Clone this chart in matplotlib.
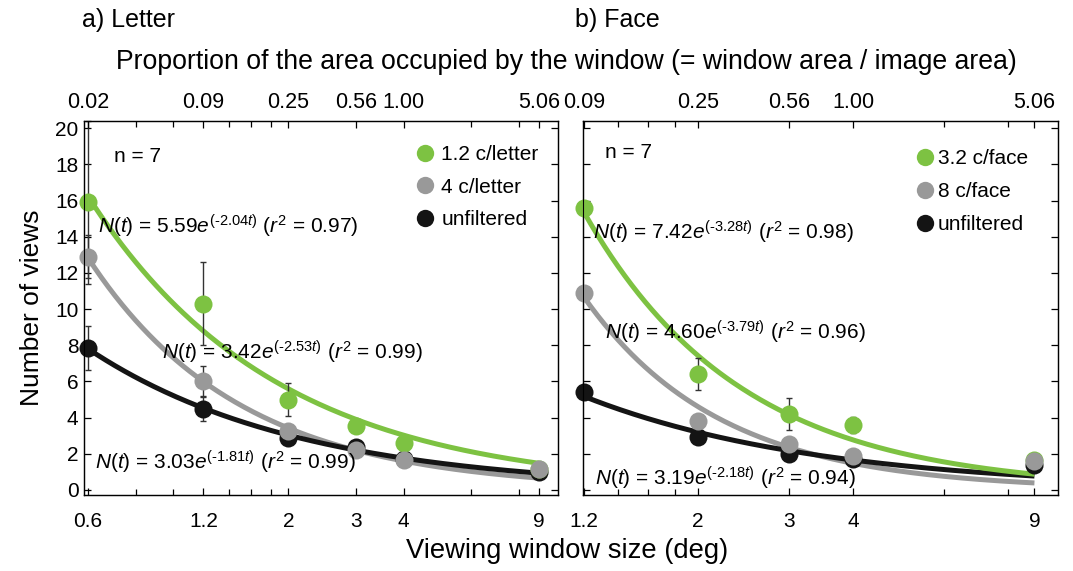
import numpy as np
import matplotlib.pyplot as plt
from matplotlib.lines import Line2D
from matplotlib.ticker import FixedLocator, FixedFormatter, NullFormatter

plt.rcParams['font.family'] = 'Liberation Sans'
plt.rcParams['mathtext.fontset'] = 'custom'
plt.rcParams['mathtext.rm'] = 'Liberation Sans'
plt.rcParams['mathtext.it'] = 'Liberation Sans:italic'

GREEN = '#7dc242'
GRAY = '#999999'
BLACK = '#141414'
ERR = '#333333'

# ---- a) Letter ----
letter_deg = [0.6, 1.2, 2, 3, 4, 9]
letter_deg_labels = ['0.6', '1.2', '2', '3', '4', '9']
letter_prop_labels = ['0.02', '0.09', '0.25', '0.56', '1.00', '5.06']
letter_names = ['1.2 c/letter', '4 c/letter', 'unfiltered']
letter_low = [15.9, 10.3, 5.0, 3.55, 2.6, 1.15]
letter_low_err = [4.5, 2.3, 0.9, 0.3, 0.3, 0.2]
letter_mid = [12.9, 6.0, 3.25, 2.2, 1.65, 1.15]
letter_mid_err = [1.2, 0.85, 0.3, 0.2, 0.2, 0.2]
letter_unf = [7.85, 4.5, 2.85, 2.35, 1.7, 1.0]
letter_unf_err = [1.2, 0.7, 0.2, 0.2, 0.2, 0.15]
letter_a = [5.59, 3.42, 3.03]
letter_b = [2.04, 2.53, 1.81]
letter_r2 = [0.97, 0.99, 0.99]

# ---- b) Face ----
face_deg = [1.2, 2, 3, 4, 9]
face_deg_labels = ['1.2', '2', '3', '4', '9']
face_prop_labels = ['0.09', '0.25', '0.56', '1.00', '5.06']
face_names = ['3.2 c/face', '8 c/face', 'unfiltered']
face_low = [15.6, 6.4, 4.2, 3.6, 1.65]
face_low_err = [0.3, 0.9, 0.9, 0.45, 0.2]
face_mid = [10.9, 3.8, 2.55, 1.9, 1.6]
face_mid_err = [0.3, 0.2, 0.2, 0.2, 0.2]
face_unf = [5.4, 2.9, 2.0, 1.7, 1.4]
face_unf_err = [0.3, 0.25, 0.2, 0.2, 0.2]
face_a = [7.42, 4.60, 3.19]
face_b = [3.28, 3.79, 2.18]
face_r2 = [0.98, 0.96, 0.94]

minor_deg = [0.8, 1.0, 1.4, 1.6, 1.8, 6, 8]
colors = [GREEN, GRAY, BLACK]
curve_z = [2.3, 2.1, 2.2]   # gray curve under black, green on top
point_z = [4.2, 4.3, 4.1]   # gray points over green and black

fig = plt.figure(figsize=(10.73, 5.71), dpi=100)
axL = fig.add_axes([84 / 1073, 76 / 571, 474 / 1073, 374 / 571])
axR = fig.add_axes([583 / 1073, 76 / 571, 475 / 1073, 374 / 571])


def eq_text(a, b, r2):
    # hyphen (U+2010) instead of a math minus, as in the original
    return r'$N(t)$ = %.2f$e^{(' % a + '\u2010' + r'%.2ft)}$ ($r^2$ = %.2f)' % (b, r2)


def panel(ax, deg, deg_labels, prop_labels, xlim, series, errs, names,
          fa, fb, fr2, eq_pos, n_pos, leg_pos, leg_pad, ylabels):
    ax.set_xscale('log')
    xs = np.geomspace(deg[0], deg[-1], 200)
    # fitted curves: N(t) = a * exp(-b t), t = log10(deg / 2)
    for a, b, c, z in zip(fa, fb, colors, curve_z):
        ax.plot(xs, a * np.exp(-b * np.log10(xs / 2)), color=c, lw=3.6,
                solid_capstyle='butt', zorder=z)
    for y, e, c, z in zip(series, errs, colors, point_z):
        ax.errorbar(deg, y, yerr=e, fmt='none', ecolor=ERR, elinewidth=1.0,
                    capsize=2.5, capthick=1.0, zorder=3, clip_on=False)
        ax.plot(deg, y, 'o', color=c, ms=13, mew=0, zorder=z, clip_on=False)
    ax.set_xlim(*xlim)
    ax.set_ylim(-0.28, 20.4)
    ax.xaxis.set_major_locator(FixedLocator(deg))
    ax.xaxis.set_major_formatter(FixedFormatter(deg_labels))
    ax.xaxis.set_minor_locator(FixedLocator([m for m in minor_deg if xlim[0] < m < xlim[1]]))
    ax.xaxis.set_minor_formatter(NullFormatter())
    ax.set_yticks(range(0, 21, 2))
    ax.tick_params(axis='both', which='both', direction='in', labelsize=15,
                   right=True, width=0.9)
    ax.tick_params(axis='x', which='major', length=5, pad=12)
    ax.tick_params(axis='x', which='minor', length=4)
    ax.tick_params(axis='y', length=5, pad=4)
    if not ylabels:
        ax.tick_params(axis='y', labelleft=False)
    for s in ax.spines.values():
        s.set_linewidth(1.0)
        s.set_color('#222222')

    top = ax.twiny()
    top.set_xscale('log')
    top.set_xlim(*xlim)
    top.xaxis.set_major_locator(FixedLocator(deg))
    top.xaxis.set_major_formatter(FixedFormatter(prop_labels))
    top.xaxis.set_minor_locator(FixedLocator([m for m in minor_deg if xlim[0] < m < xlim[1]]))
    top.xaxis.set_minor_formatter(NullFormatter())
    top.tick_params(axis='x', which='both', direction='in', labelsize=15.5,
                    width=0.9, pad=6)
    top.tick_params(axis='x', which='major', length=5)
    top.tick_params(axis='x', which='minor', length=4)

    for (x, y), a, b, r2 in zip(eq_pos, fa, fb, fr2):
        ax.text(x, y, eq_text(a, b, r2), transform=ax.transAxes, fontsize=15,
                va='center', ha='left', zorder=5)
    ax.text(n_pos[0], n_pos[1], 'n = 7', transform=ax.transAxes, fontsize=15,
            va='center', ha='left')

    handles = [Line2D([], [], marker='o', ls='none', color=c, ms=12.5, mew=0)
               for c in colors]
    ax.legend(handles, names, loc='upper left', bbox_to_anchor=leg_pos,
              frameon=False, fontsize=15, handlelength=1.0,
              handletextpad=leg_pad, labelspacing=0.66, borderpad=0,
              borderaxespad=0)


panel(axL, letter_deg, letter_deg_labels, letter_prop_labels, (0.586, 10.1),
      [letter_low, letter_mid, letter_unf],
      [letter_low_err, letter_mid_err, letter_unf_err], letter_names,
      letter_a, letter_b, letter_r2,
      [(0.030, 0.719), (0.165, 0.38), (0.023, 0.086)], (0.063, 0.904),
      (0.697, 0.936), 0.30, True)

panel(axR, face_deg, face_deg_labels, face_prop_labels, (1.195, 10.0),
      [face_low, face_mid, face_unf],
      [face_low_err, face_mid_err, face_unf_err], face_names,
      face_a, face_b, face_r2,
      [(0.021, 0.703), (0.046, 0.436), (0.025, 0.045)], (0.046, 0.917),
      (0.698, 0.924), 0.12, False)

axL.set_ylabel('Number of views', fontsize=19, labelpad=8)

fig.text(82 / 1073, 1 - 20 / 571, 'a) Letter', fontsize=18, ha='left', va='center')
fig.text(575 / 1073, 1 - 20 / 571, 'b) Face', fontsize=18, ha='left', va='center')
fig.text(566 / 1073, 1 - 62 / 571,
         'Proportion of the area occupied by the window (= window area / image area)',
         fontsize=19.2, ha='center', va='center')
fig.text(567 / 1073, 1 - 551 / 571, 'Viewing window size (deg)', fontsize=19.7,
         ha='center', va='center')

fig.savefig('out.png', dpi=100)
